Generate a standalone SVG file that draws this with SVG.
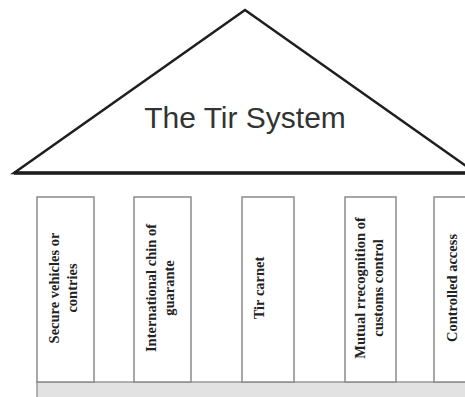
<svg xmlns="http://www.w3.org/2000/svg" width="465" height="397" viewBox="0 0 465 397">
<style>
.pillar{fill:#fff;stroke:#8a8a8a;stroke-width:1.5}
.pt{font-family:"Liberation Serif",serif;font-weight:bold;font-size:14.5px;fill:#222;text-anchor:middle}
.title{font-family:"Liberation Sans","Open Sans",sans-serif;font-size:30px;fill:#333;text-anchor:middle}
</style>
<rect width="465" height="397" fill="#fff"/>
<g id="roof">
<polygon points="245,10 476,173 14,173" fill="#fff" stroke="#1e1e1e" stroke-width="2.5" stroke-linejoin="miter"/>
<line x1="14" y1="173" x2="465" y2="173" stroke="#1e1e1e" stroke-width="3.5"/>
<text class="title" x="245" y="128">The Tir System</text>
</g>
<g id="base">
<rect x="37" y="382" width="440" height="20" fill="#e2e2e2" stroke="#9a9a9a" stroke-width="1.5"/>
</g>
<g id="pillar1">
<rect class="pillar" x="37" y="197" width="57" height="185"/>
<g transform="translate(65.5,288) rotate(-90)">
<text class="pt" x="0" y="-7">Secure vehicles or</text>
<text class="pt" x="0" y="11">contries</text>
</g>
</g>
<g id="pillar2">
<rect class="pillar" x="134" y="197" width="57" height="185"/>
<g transform="translate(162.5,288) rotate(-90)">
<text class="pt" x="0" y="-7">International chin of</text>
<text class="pt" x="0" y="11">guarante</text>
</g>
</g>
<g id="pillar3">
<rect class="pillar" x="242" y="197" width="52" height="185"/>
<g transform="translate(268,288) rotate(-90)">
<text class="pt" x="0" y="-4">Tir carnet</text>
</g>
</g>
<g id="pillar4">
<rect class="pillar" x="345" y="197" width="51" height="185"/>
<g transform="translate(370.5,288) rotate(-90)">
<text class="pt" x="0" y="-6">Mutual rrecognition of</text>
<text class="pt" x="0" y="12">customs control</text>
</g>
</g>
<g id="pillar5">
<rect class="pillar" x="434" y="197" width="53" height="185"/>
<g transform="translate(460.5,288) rotate(-90)">
<text class="pt" x="0" y="-3.5">Controlled access</text>
</g>
</g>
<g id="connectors"></g>
</svg>
